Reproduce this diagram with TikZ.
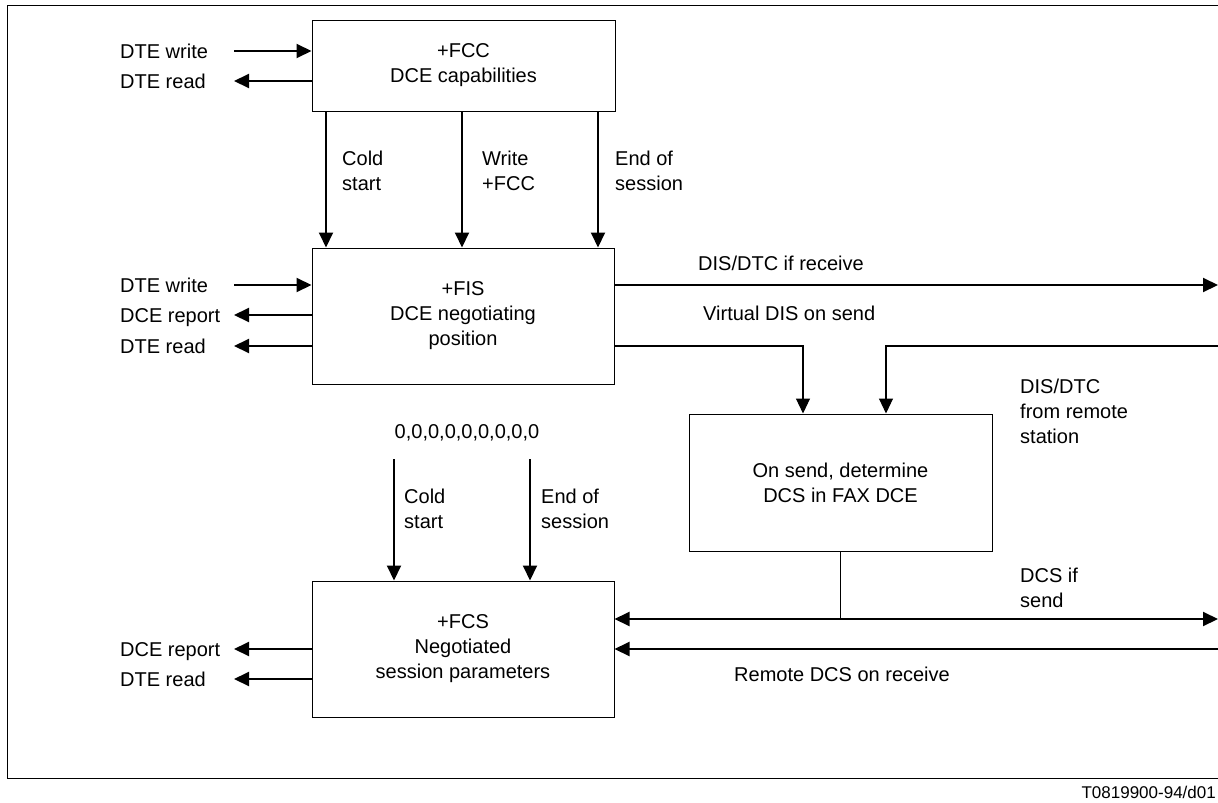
\documentclass[tikz,border=0pt]{standalone}
\usepackage{fontspec}
\setmainfont{Liberation Sans}
\usetikzlibrary{arrows.meta}
\begin{document}
\begin{tikzpicture}[x=1pt,y=-1pt,
  every node/.style={font=\fontsize{20}{25}\selectfont, inner sep=0pt},
  box/.style={draw, line width=1pt, align=center},
  lbl/.style={anchor=west, align=left},
  one/.style={anchor=west, text height=14.5pt, text depth=0pt},
  >={Triangle[length=15pt,width=14pt]},
  heavy/.style={line width=2pt},
  light/.style={line width=1.1pt},
]
\useasboundingbox (0,0) rectangle (1218,803);
\draw[line width=1pt] (1218,5) -- (7,5) -- (7,778) -- (1218,778);

% boxes
\node[box, minimum width=303pt, minimum height=91pt] (fcc) at (463.5,65.5) {+FCC\\DCE capabilities};
\node[box, minimum width=302pt, minimum height=136pt] (fis) at (463,316) {+FIS\\DCE negotiating\\position};
\node[box, minimum width=303pt, minimum height=137pt] (dcs) at (840.5,482.5) {On send, determine\\DCS in FAX DCE};
\node[box, minimum width=302pt, minimum height=136pt] (fcs) at (463,649) {+FCS\\Negotiated\\session parameters};

% FCC left side
\node[one] (l1) at (120,51) {DTE write};
\node[one] (l2) at (120,81) {DTE read};
\coordinate (a1) at (234,51);
\coordinate (a2) at (234,81);
\draw[heavy,->] (a1) -- (a1 -| fcc.west);
\draw[heavy,->] (a2 -| fcc.west) -- (a2);

% FCC -> FIS
\coordinate (v1) at (326,0);
\coordinate (v2) at (462,0);
\coordinate (v3) at (598,0);
\draw[heavy,->] (v1 |- fcc.south) -- (v1 |- fis.north);
\draw[heavy,->] (v2 |- fcc.south) -- (v2 |- fis.north);
\draw[heavy,->] (v3 |- fcc.south) -- (v3 |- fis.north);
\node[lbl] (c1) at (342,170.5) {Cold\\start};
\node[lbl] (c2) at (482,170.5) {Write\\+FCC};
\node[lbl] (c3) at (615,170.5) {End of\\session};

% FIS left side
\node[one] (l3) at (120,285) {DTE write};
\node[one] (l4) at (120,315) {DCE report};
\node[one] (l5) at (120,346) {DTE read};
\coordinate (a3) at (234,285);
\coordinate (a4) at (234,315);
\coordinate (a5) at (234,346);
\draw[heavy,->] (a3) -- (a3 -| fis.west);
\draw[heavy,->] (a4 -| fis.west) -- (a4);
\draw[heavy,->] (a5 -| fis.west) -- (a5);

% FIS right side
\coordinate (r1) at (1218,285);
\draw[heavy,->] (r1 -| fis.east) -- (r1);
\node[one] (t1) at (698,263) {DIS/DTC if receive};
\node[one] (t2) at (703,313) {Virtual DIS on send};
\coordinate (k1) at (803,346);
\coordinate (k2) at (886,346);
\coordinate (r2) at (1218,346);
\draw[light,->] (k1 -| fis.east) -- (k1) -- (k1 |- dcs.north);
\draw[light,->] (r2) -- (k2) -- (k2 |- dcs.north);
\node[lbl] (t3) at (1020,411) {DIS/DTC\\from remote\\station};

% DCS outputs
\coordinate (j) at (841,619);
\coordinate (r3) at (1218,619);
\coordinate (r4) at (1218,649);
\draw[light] (dcs.south) -- (dcs.south |- j);
\draw[heavy,<->] (r3 -| fcs.east) -- (r3);
\draw[heavy,->] (r4) -- (r4 -| fcs.east);
\node[lbl] (t4) at (1020,587.5) {DCS if\\send};
\node[one] (t5) at (734,674) {Remote DCS on receive};

% zeros into FCS
\node (z) at (467,433) {0,0,0,0,0,0,0,0,0};
\coordinate (d1) at (394,459);
\coordinate (d2) at (530,459);
\draw[heavy,->] (d1) -- (d1 |- fcs.north);
\draw[heavy,->] (d2) -- (d2 |- fcs.north);
\node[lbl] (c4) at (404,508.5) {Cold\\start};
\node[lbl] (c5) at (541,508.5) {End of\\session};

% FCS left side
\node[one] (l6) at (120,649) {DCE report};
\node[one] (l7) at (120,679) {DTE read};
\coordinate (a6) at (234,649);
\coordinate (a7) at (234,679);
\draw[heavy,->] (a6 -| fcs.west) -- (a6);
\draw[heavy,->] (a7 -| fcs.west) -- (a7);

% footer
\node[anchor=east, font=\fontsize{17}{20}\selectfont] (ft) at (1216,792) {T0819900-94/d01};
\end{tikzpicture}
\end{document}
